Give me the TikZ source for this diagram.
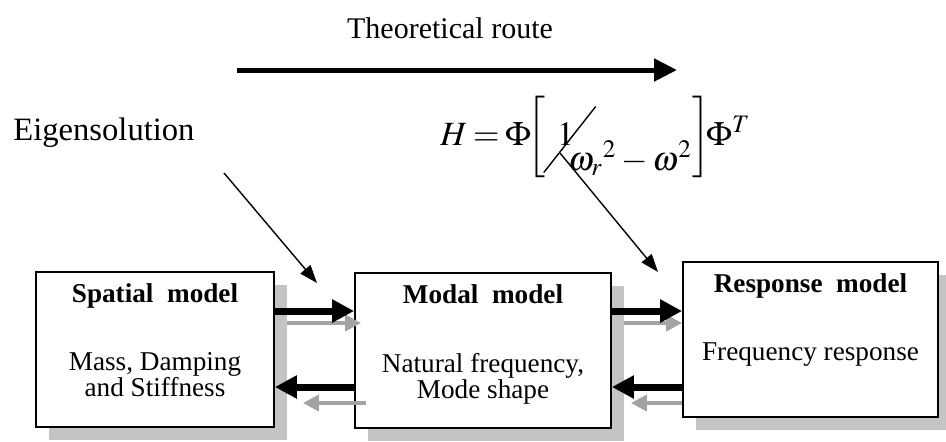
\documentclass[tikz,border=0pt]{standalone}
\usepackage{amsmath}
\usepackage{mathptmx}
\usepackage{fontspec}
\setmainfont{Liberation Serif}
\usepackage{graphicx}
\usepackage{xcolor}
\usepackage{tikz}
\usetikzlibrary{positioning,arrows.meta,calc,shadows}
\definecolor{mShade}{HTML}{C4C4C4}
\definecolor{mGreyArrow}{HTML}{A3A3A3}
\tikzset{
 modelbox/.style={draw=black, line width=0.9pt, fill=white, inner sep=0pt, minimum height=77.5pt,
   drop shadow={shadow xshift=6.5pt, shadow yshift=-6.5pt, fill=mShade, opacity=1}},
 titletext/.style={anchor=base, inner sep=0pt, font=\fontsize{13.6}{16}\selectfont\bfseries},
 bodytext/.style={anchor=north, inner sep=0pt, align=center, font=\fontsize{13.6}{13}\selectfont},
 bigflow/.style={line width=3.5pt, -{Triangle[length=11pt,width=11pt]}},
 shadeflow/.style={mGreyArrow, line width=2pt, -{Triangle[length=8pt,width=8pt]}},
 routearrow/.style={line width=2.5pt, -{Triangle[length=11.5pt,width=11pt]}},
 pointer/.style={line width=0.7pt, -{Triangle[length=9pt,width=6.5pt]}}
}
\newcommand{\modelblock}[5]{%
 \node[modelbox, minimum width=#3] (#2) at (#1) {};%
 \node[titletext] (#2-title) at ([yshift=-15.5pt]#2.north) {#4};%
 \node[bodytext] (#2-body) at ([yshift=-40.5pt]#2.north) {#5};}

\begin{document}
\begin{tikzpicture}[x=0.5pt, y=-0.5pt]
\useasboundingbox (0,0) rectangle (946,441);
\node[anchor=base, inner sep=0pt, font=\fontsize{15}{18}\selectfont] (route) at (450,38) {Theoretical route};
\coordinate (route-a) at (237,70);
\coordinate (route-b) at (677,70);
\draw[routearrow] (route-a) -- (route-b);
\node[anchor=base west, inner sep=0pt, font=\fontsize{16.3}{20}\selectfont] (eigen) at (13,140) {Eigensolution};
\node[anchor=base west, inner sep=0pt, font=\fontsize{17}{21}\selectfont] (frf) at (440,145)
 {$H\mkern3mu{=}\mkern3mu\Phi\mkern-4mu\left[\vrule height 26pt depth 16.5pt width 0pt\kern-1pt\rlap{\raisebox{-14pt}{\rotatebox{51.8}{\rule{42pt}{0.7pt}}}}\kern7pt 1\kern-3pt\raisebox{-12.5pt}{$\omega_r{}^2-\omega^2$}\kern0pt\right]\mkern-4mu\Phi^T$};
\coordinate (eigen-a) at (224,173);
\coordinate (eigen-b) at (317,283);
\coordinate (frf-a) at (560,153);
\coordinate (frf-b) at (658,272);

\modelblock{155,349.5}{spatial}{119pt}{Spatial\ \ model}{Mass, Damping\\and Stiffness}
\modelblock{483,350.5}{modal}{128pt}{Modal\ \ model}{Natural frequency,\\Mode shape}
\modelblock{810.5,339.5}{response}{127.5pt}{Response\ \ model}{Frequency response}

\coordinate (fwd) at (0,311);
\coordinate (bwd) at (0,387);
\coordinate (gfwd) at (0,323);
\coordinate (gbwd) at (0,403);
\draw[shadeflow] ([xshift=6pt]spatial.east |- gfwd) -- ([xshift=3.5pt]modal.west |- gfwd);
\draw[shadeflow] ([xshift=6pt]modal.west |- gbwd) -- ([xshift=14pt]spatial.east |- gbwd);
\draw[shadeflow] ([xshift=6pt]modal.east |- gfwd) -- (response.west |- gfwd);
\draw[shadeflow] (response.west |- gbwd) -- ([xshift=9.5pt]modal.east |- gbwd);
\draw[bigflow] (spatial.east |- fwd) -- (modal.west |- fwd);
\draw[bigflow] (modal.west |- bwd) -- (spatial.east |- bwd);
\draw[bigflow] (modal.east |- fwd) -- (response.west |- fwd);
\draw[bigflow] (response.west |- bwd) -- (modal.east |- bwd);
\draw[pointer] (eigen-a) -- (eigen-b);
\draw[pointer] (frf-a) -- (frf-b);
\end{tikzpicture}
\end{document}
